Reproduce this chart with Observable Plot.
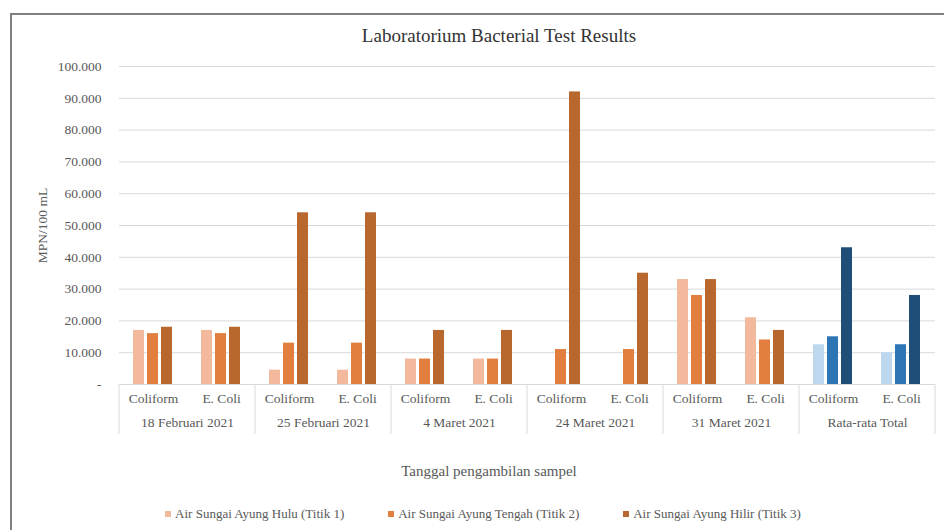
<!DOCTYPE html>
<html>
<head>
<meta charset="utf-8">
<script src="https://cdn.jsdelivr.net/npm/d3@7"></script>
<script src="https://cdn.jsdelivr.net/npm/@observablehq/plot@0.6"></script>
<style>
  html, body { margin: 0; padding: 0; background: #fff; }
  #page { position: relative; width: 944px; height: 530px; overflow: hidden; font-family: "Liberation Serif", "Times New Roman", serif; }
  #box { position: absolute; left: 10px; top: 13px; width: 960px; height: 560px; border: 2px solid #7f7f7f; box-sizing: border-box; }
  #title { position: absolute; left: 0; width: 998px; top: 25px; text-align: center; font-size: 19px; color: #333; }
  #xtitle { position: absolute; left: 0; width: 978px; top: 463px; text-align: center; font-size: 15px; color: #595959; }
  #legend { position: absolute; left: 0; width: 966px; top: 506px; display: flex; justify-content: center; gap: 44px; font-size: 13px; color: #595959; }
  #legend span.sw { display: inline-block; width: 6px; height: 6px; margin-right: 4px; vertical-align: middle; position: relative; top: -1px; }
  #chart { position: absolute; left: 0; top: 0; }
  #chart svg text { font-family: "Liberation Serif", "Times New Roman", serif; }
</style>
</head>
<body>
<div id="page">
  <div id="box"></div>
  <div id="chart"></div>
  <div id="title">Laboratorium Bacterial Test Results</div>
  <div id="xtitle">Tanggal pengambilan sampel</div>
  <div id="legend"></div>
</div>
<script>
// ---- data ----
const dates = ["18 Februari 2021", "25 Februari 2021", "4 Maret 2021", "24 Maret 2021", "31 Maret 2021", "Rata-rata Total"];
const types = ["Coliform", "E. Coli"];
const seriesNames = ["Air Sungai Ayung Hulu (Titik 1)", "Air Sungai Ayung Tengah (Titik 2)", "Air Sungai Ayung Hilir (Titik 3)"];
// values per series, ordered: date x type (Coliform, E. Coli)
const hulu   = [17000, 17000,  4500,  4500,  8000,  8000,     0,     0, 33000, 21000, 12500, 10000];
const tengah = [16000, 16000, 13000, 13000,  8000,  8000, 11000, 11000, 28000, 14000, 15000, 12500];
const hilir  = [18000, 18000, 54000, 54000, 17000, 17000, 92000, 35000, 33000, 17000, 43000, 28000];
const yTicks = [0, 10000, 20000, 30000, 40000, 50000, 60000, 70000, 80000, 90000, 100000];
const orangeColors = ["#F2B99C", "#E27F3E", "#B8672F"];
const blueColors = ["#BDD7EE", "#2E75B6", "#1F4E79"];

// ---- build table ----
const seriesValues = [hulu, tengah, hilir];
const rows = [];
const keys = [];
dates.forEach((d, di) => types.forEach((t, ti) => {
  const key = d + "|" + t;
  keys.push(key);
  const idx = di * 2 + ti;
  seriesNames.forEach((s, si) => {
    rows.push({key, date: d, type: t, series: s, value: seriesValues[si][idx],
      colorKey: (d === "Rata-rata Total" ? "b" : "o") + si});
  });
}));
const dateLabels = dates.map(d => ({key: d + "|E. Coli", date: d}));

const fmt = v => v === 0 ? "-" : d3.format(",")(v).replace(/,/g, ".");

const chart = Plot.plot({
  width: 944,
  height: 440,
  marginLeft: 113,
  marginRight: 4,
  marginTop: 66,
  marginBottom: 56,
  style: {fontFamily: "'Liberation Serif', 'Times New Roman', serif", fontSize: "13.5px", color: "#595959", background: "transparent"},
  fx: {domain: keys, padding: 0, tickFormat: k => k.split("|")[1], tickSize: 0, tickPadding: 9, label: null, axis: "bottom"},
  x: {domain: seriesNames, paddingInner: 0.2, paddingOuter: 0.9, axis: null},
  y: {domain: [0, 100000], ticks: yTicks, tickFormat: fmt, tickSize: 0, tickPadding: 18,
      label: "MPN/100 mL", labelAnchor: "center", labelOffset: 82, labelArrow: "none"},
  color: {domain: ["o0", "o1", "o2", "b0", "b1", "b2"], range: [...orangeColors, ...blueColors]},
  marks: [
    Plot.gridY(yTicks, {stroke: "#d9d9d9", strokeOpacity: 1}),
    Plot.ruleY([0], {stroke: "#d9d9d9", strokeOpacity: 1}),
    Plot.barY(rows, {fx: "key", x: "series", y: "value", fill: "colorKey"}),
    Plot.text(dateLabels, {fx: "key", text: "date", frameAnchor: "bottom-left", textAnchor: "middle", dy: 42, fill: "#595959"})
  ]
});
document.getElementById("chart").appendChild(chart);

// separators between date groups, positioned from the fx band scale
const fxScale = chart.scale("fx");
const yScale = chart.scale("y");
const svg = d3.select(chart);
const bw = fxScale.bandwidth;
const sepX = dates.map(d => fxScale.apply(d + "|Coliform"));
sepX.push(fxScale.apply(dates[dates.length - 1] + "|E. Coli") + bw);
const y0 = yScale.apply(0);
svg.append("g").selectAll("line").data(sepX).join("line")
  .attr("x1", x => x).attr("x2", x => x)
  .attr("y1", y0).attr("y2", y0 + 50)
  .attr("stroke", "#d9d9d9");

// legend
const legend = document.getElementById("legend");
seriesNames.forEach((s, i) => {
  const item = document.createElement("div");
  item.innerHTML = `<span class="sw" style="background:${orangeColors[i]}"></span>${s}`;
  legend.appendChild(item);
});
</script>
</body>
</html>
